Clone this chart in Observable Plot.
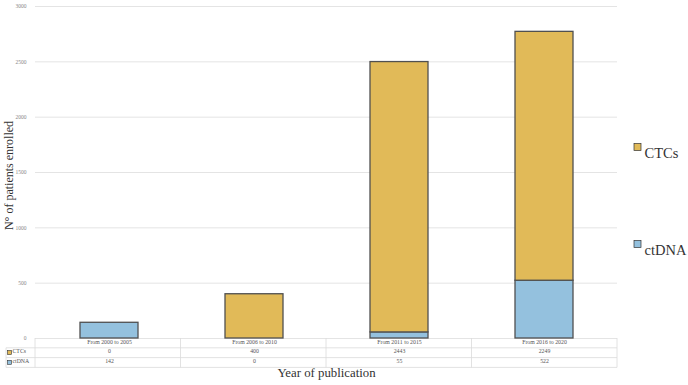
<!DOCTYPE html>
<html>
<head>
<meta charset="utf-8">
<script src="https://cdn.jsdelivr.net/npm/d3@7"></script>
<script src="https://cdn.jsdelivr.net/npm/@observablehq/plot@0.6"></script>
<style>
  html, body { margin: 0; padding: 0; background: #fff; }
  #chart svg { display: block; }
</style>
</head>
<body>
<div id="chart"></div>
<script>
const periods = ["From 2000 to 2005", "From 2006 to 2010", "From 2011 to 2015", "From 2016 to 2020"];
const ctcs = [0, 400, 2443, 2249];
const ctdna = [142, 0, 55, 522];
const seriesNames = ["CTCs", "ctDNA"];
const seriesColors = ["#E1BA58", "#94C1DE"];
const yTicks = [0, 500, 1000, 1500, 2000, 2500, 3000];
const yLabel = "N° of patients enrolled";
const xLabel = "Year of publication";

const seriesValues = {CTCs: ctcs, ctDNA: ctdna};
const data = [];
for (const s of ["ctDNA", "CTCs"]) {
  periods.forEach((p, i) => data.push({period: p, series: s, value: seriesValues[s][i]}));
}

const W = 688, H = 385;
const mL = 35, mR = 71, mT = 6, mB = 47;
const font = "'Liberation Serif', 'Times New Roman', serif";
const rowH = 9.8;
const tableFont = 5.8;

const tableMarks = [];
seriesNames.forEach((s, r) => {
  const rows = periods.map((p, i) => ({period: p, value: seriesValues[s][i]}));
  tableMarks.push(Plot.text(rows, {x: "period", text: d => String(d.value), frameAnchor: "bottom", dy: 14.5 + r * rowH, fontSize: tableFont, fill: "#555"}));
  tableMarks.push(Plot.text([s], {frameAnchor: "bottom-left", dx: -23, dy: 14.5 + r * rowH, textAnchor: "start", fontSize: tableFont, fill: "#555"}));
  tableMarks.push(Plot.text([s], {frameAnchor: "top-right", dx: 27, dy: 141 + r * 97, textAnchor: "start", fontSize: 14.5, fill: "#333"}));
});

const chart = Plot.plot({
  width: W, height: H,
  marginLeft: mL, marginRight: mR, marginTop: mT, marginBottom: mB,
  style: {fontFamily: font, background: "#fff", overflow: "visible"},
  x: {domain: periods, paddingInner: 0.6, paddingOuter: 0.3, axis: null},
  y: {domain: [0, 3000], axis: null},
  color: {domain: seriesNames, range: seriesColors},
  marks: [
    Plot.ruleY(yTicks, {stroke: "#e4e4e4", strokeWidth: 1}),
    Plot.barY(data.filter(d => d.value > 0), {
      x: "period", y: "value", fill: "series",
      order: ["ctDNA", "CTCs"],
      stroke: "#505050", strokeWidth: 1.3
    }),
    Plot.axisY(yTicks, {tickSize: 0, tickPadding: 9, fontSize: 5.5, fill: "#888", label: null, tickFormat: d => String(d)}),
    Plot.text([yLabel], {frameAnchor: "left", textAnchor: "middle", dx: -26, dy: 3, rotate: -90, fontSize: 12, fill: "#333"}),
    Plot.text(periods, {x: d => d, frameAnchor: "bottom", dy: 5, fontSize: tableFont, fill: "#555"}),
    ...tableMarks,
    Plot.text([xLabel], {frameAnchor: "bottom", dy: 38.5, fontSize: 12.8, fill: "#333"})
  ]
});

// table grid lines & swatches (layout decoration, positioned from the chart's scales)
const svg = d3.select(chart);
const xs = chart.scale("x");
const ys = chart.scale("y");
const x0 = xs.range[0], x1 = xs.range[1];
const base = ys.apply(0);
const n = periods.length;
const g = svg.append("g").attr("stroke", "#dadada").attr("stroke-width", 0.8);
[base + rowH, base + 2 * rowH, base + 3 * rowH].forEach(y => {
  g.append("line").attr("x1", 6).attr("x2", x1).attr("y1", y).attr("y2", y);
});
d3.range(n + 1).forEach(i => {
  const x = x0 + i * (x1 - x0) / n;
  g.append("line").attr("x1", x).attr("x2", x).attr("y1", base).attr("y2", base + 3 * rowH);
});
g.append("line").attr("x1", 6).attr("x2", 6).attr("y1", base + rowH).attr("y2", base + 3 * rowH);
seriesNames.forEach((s, i) => {
  svg.append("rect").attr("x", 7.5).attr("y", base + 12.5 + i * rowH).attr("width", 4).attr("height", 4)
    .attr("fill", seriesColors[i]).attr("stroke", "#333").attr("stroke-width", 0.6);
  svg.append("rect").attr("x", 634).attr("y", 143.5 + i * 97).attr("width", 7).attr("height", 7)
    .attr("fill", seriesColors[i]).attr("stroke", "#333").attr("stroke-width", 0.7);
});

document.getElementById("chart").appendChild(chart);
</script>
</body>
</html>
